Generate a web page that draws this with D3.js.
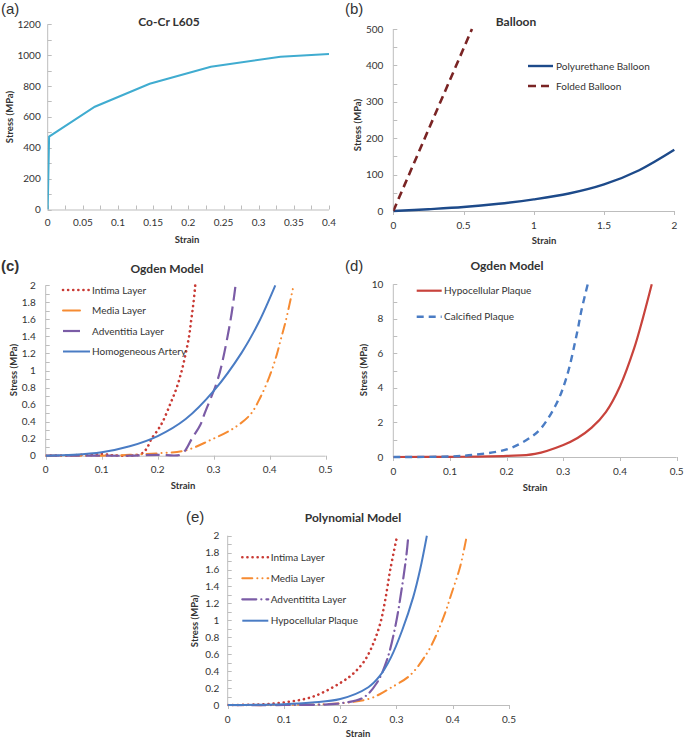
<!DOCTYPE html>
<html><head><meta charset="utf-8">
<script src="https://cdn.jsdelivr.net/npm/d3@7"></script>
<style>
body{margin:0;background:#fff;}
svg text{font-family:Lato,"Open Sans",sans-serif;fill:#333;}
</style></head>
<body><svg id="c" width="685" height="739"></svg>
<script>
// ---------- DATA ----------
// (a) Co-Cr L605
const coCrStrain = [0, 0.002, 0.067, 0.145, 0.232, 0.331, 0.4];
const coCrStress = [0, 472, 666, 815, 925, 990, 1007];
// (b) Balloon
const puStrain = [0, 0.25, 0.5, 0.75, 1, 1.25, 1.5, 1.75, 2];
const puStress = [0, 5, 11, 20, 32, 48, 73, 112, 168];
const foldStrain = [0, 0.56];
const foldStress = [0, 500];
// (c) Ogden model, artery layers
const cIntimaStrain = [0, 0.05, 0.1, 0.12, 0.15, 0.17, 0.18, 0.189, 0.2, 0.209, 0.222, 0.234, 0.243, 0.25, 0.256, 0.26, 0.264, 0.267];
const cIntimaStress = [0, 0.005, 0.02, 0.005, 0, 0.02, 0.08, 0.2, 0.3, 0.4, 0.6, 0.8, 1.0, 1.2, 1.4, 1.6, 1.8, 2.0];
const cMediaStrain = [0, 0.1, 0.15, 0.204, 0.249, 0.293, 0.335, 0.365, 0.383, 0.399, 0.411, 0.42, 0.429, 0.442];
const cMediaStress = [0, 0, 0.01, 0.03, 0.06, 0.18, 0.32, 0.48, 0.68, 0.92, 1.15, 1.37, 1.59, 1.98];
const cAdvStrain = [0, 0.1, 0.15, 0.2, 0.24, 0.249, 0.261, 0.276, 0.284, 0.305, 0.314, 0.329, 0.336, 0.339];
const cAdvStress = [0, 0, 0, 0.01, 0.01, 0.06, 0.2, 0.36, 0.5, 0.85, 1.06, 1.55, 1.85, 2.0];
const cHomoStrain = [0, 0.05, 0.1, 0.15, 0.2, 0.25, 0.3, 0.35, 0.38, 0.41];
const cHomoStress = [0, 0.01, 0.04, 0.11, 0.23, 0.43, 0.76, 1.21, 1.56, 2.0];
// (d) Ogden model, plaques
const dHypoStrain = [0, 0.1, 0.2, 0.25, 0.3, 0.325, 0.35, 0.375, 0.4, 0.425, 0.44, 0.456];
const dHypoStress = [0, 0.01, 0.06, 0.18, 0.7, 1.1, 1.7, 2.6, 4.1, 6.3, 8.0, 10];
const dCalcStrain = [0, 0.1, 0.141, 0.2, 0.235, 0.259, 0.288, 0.306, 0.324, 0.332, 0.343];
const dCalcStress = [0, 0.03, 0.12, 0.44, 0.98, 1.6, 3.1, 4.65, 7.16, 8.5, 10];
// (e) Polynomial model
const eIntimaStrain = [0, 0.05, 0.1, 0.152, 0.2, 0.223, 0.244, 0.259, 0.271, 0.28, 0.289, 0.3];
const eIntimaStress = [0, 0.005, 0.03, 0.1, 0.26, 0.37, 0.53, 0.73, 0.96, 1.24, 1.6, 1.96];
const eMediaStrain = [0, 0.1, 0.2, 0.25, 0.271, 0.289, 0.324, 0.354, 0.371, 0.386, 0.398, 0.413, 0.425];
const eMediaStress = [0, 0, 0.02, 0.07, 0.13, 0.2, 0.35, 0.61, 0.83, 1.08, 1.32, 1.63, 2.0];
const eAdvStrain = [0, 0.1, 0.2, 0.241, 0.265, 0.283, 0.298, 0.309, 0.318, 0.321];
const eAdvStress = [0, 0, 0.02, 0.087, 0.26, 0.53, 0.93, 1.36, 1.79, 2.0];
const eHypoStrain = [0, 0.1, 0.15, 0.2, 0.25, 0.27, 0.29, 0.31, 0.33, 0.342, 0.354];
const eHypoStress = [0, 0.01, 0.03, 0.07, 0.21, 0.34, 0.56, 0.88, 1.28, 1.6, 2.0];

// tick labels
const aXTicks = [0, 0.05, 0.1, 0.15, 0.2, 0.25, 0.3, 0.35, 0.4];
const aYTicks = [0, 200, 400, 600, 800, 1000, 1200];
const bXTicks = [0, 0.5, 1, 1.5, 2];
const bYTicks = [0, 100, 200, 300, 400, 500];
const ceXTicks = [0, 0.1, 0.2, 0.3, 0.4, 0.5];
const ceYTicks = [0, 0.2, 0.4, 0.6, 0.8, 1, 1.2, 1.4, 1.6, 1.8, 2];
const dYTicks = [0, 2, 4, 6, 8, 10];

// ---------- STYLES ----------
const RED_DOT = {color:"#c93a34", width:2.6, dash:"0.1,5", cap:"round"};
const ORANGE_DDD = {color:"#f68b32", width:2, dash:"10,5,0.1,5,0.1,5", cap:"round"};
const PURPLE_LD = {color:"#7b5ca6", width:2.2, dash:"14,6", cap:"butt"};
const PURPLE_LDD = {color:"#7b5ca6", width:2.2, dash:"14,5,0.1,5", cap:"round"};
const BLUE_SOLID = {color:"#4a7cc4", width:2, dash:null, cap:"butt"};

const svg = d3.select("#c");

function panel(cfg){
  const x = d3.scaleLinear().domain(cfg.xDom).range([cfg.x0, cfg.x1]);
  const y = d3.scaleLinear().domain(cfg.yDom).range([cfg.yb, cfg.yt]);
  const g = svg.append("g");
  const yMinor = d3.range(cfg.yDom[0], cfg.yDom[1] + cfg.yMinor/2, cfg.yMinor);
  g.selectAll(".ym").data(yMinor).enter().append("line")
    .attr("x1", cfg.x0).attr("x2", cfg.x0 + 4)
    .attr("y1", d => Math.round(y(d)) + 0.5).attr("y2", d => Math.round(y(d)) + 0.5)
    .attr("stroke", "#bdbdbd");
  if (cfg.xMinorIn){
    const xm = d3.range(cfg.xDom[0], cfg.xDom[1] + cfg.xMinorIn/2, cfg.xMinorIn);
    g.selectAll(".xm").data(xm).enter().append("line")
      .attr("x1", d => Math.round(x(d)) + 0.5).attr("x2", d => Math.round(x(d)) + 0.5)
      .attr("y1", cfg.yb).attr("y2", cfg.yb - 4).attr("stroke", "#bdbdbd");
  } else {
    g.selectAll(".xt").data(cfg.xTicks).enter().append("line")
      .attr("x1", d => Math.round(x(d)) + 0.5).attr("x2", d => Math.round(x(d)) + 0.5)
      .attr("y1", cfg.yb).attr("y2", cfg.yb + 4).attr("stroke", "#bdbdbd");
  }
  g.append("line").attr("x1", cfg.x0).attr("x2", cfg.x0).attr("y1", cfg.yt).attr("y2", cfg.yb).attr("stroke", "#bdbdbd");
  g.append("line").attr("x1", cfg.x0).attr("x2", cfg.x1).attr("y1", cfg.yb + 0.5).attr("y2", cfg.yb + 0.5).attr("stroke", "#bdbdbd");
  g.selectAll(".xl").data(cfg.xTicks).enter().append("text")
    .attr("x", d => x(d)).attr("y", cfg.yb + cfg.xlabOff)
    .attr("text-anchor", "middle").attr("font-size", 10).text(d => String(d));
  g.selectAll(".yl").data(cfg.yTicks).enter().append("text")
    .attr("x", cfg.x0 - cfg.ylabGap).attr("y", d => y(d) + 3.5)
    .attr("text-anchor", "end").attr("font-size", 10).text(d => String(d));
  g.append("text").attr("x", cfg.strainX).attr("y", cfg.strainY).attr("text-anchor", "middle")
    .attr("font-size", 9.5).attr("font-weight", "bold").text("Strain");
  g.append("text").attr("transform", `translate(${cfg.stressX},${cfg.stressY}) rotate(-90)`)
    .attr("text-anchor", "middle").attr("font-size", 9.5).attr("font-weight", "bold").text("Stress (MPa)");
  g.append("text").attr("x", cfg.titleX).attr("y", cfg.titleY).attr("text-anchor", "middle")
    .attr("font-size", 12).attr("font-weight", "bold").text(cfg.title);
  g.append("text").attr("x", cfg.letterX).attr("y", cfg.letterY)
    .attr("font-size", 15)
    .attr("font-weight", cfg.letterBold ? "bold" : "normal").style("font-family", "'Liberation Sans',Arial,sans-serif")
    .text(cfg.letter);
  const clipId = "clip" + cfg.letter.replace(/\W/g, "");
  svg.append("clipPath").attr("id", clipId).append("rect")
    .attr("x", cfg.x0).attr("y", cfg.yt - 3).attr("width", cfg.x1 - cfg.x0 + 3).attr("height", cfg.yb - cfg.yt + 6);
  cfg.series.forEach(s => {
    const pts = s.xs.map((v, i) => [v, s.ys[i]]);
    const line = d3.line().x(d => x(d[0])).y(d => y(d[1]))
      .curve(s.linear ? d3.curveLinear : d3.curveCatmullRom.alpha(0.5));
    g.append("path").attr("d", line(pts)).attr("fill", "none")
      .attr("stroke", s.style.color).attr("stroke-width", s.style.width)
      .attr("stroke-dasharray", s.style.dash).attr("stroke-linecap", s.style.cap)
      .attr("clip-path", `url(#${clipId})`);
  });
  if (cfg.legend){
    const L = cfg.legend;
    cfg.series.forEach((s, i) => {
      if (!s.name) return;
      const ly = L.ys[i];
      g.append("line").attr("x1", L.x1).attr("x2", s.legEnd || L.x2).attr("y1", ly).attr("y2", ly)
        .attr("stroke", s.style.color).attr("stroke-width", s.style.width)
        .attr("stroke-dasharray", s.legDash !== undefined ? s.legDash : s.style.dash).attr("stroke-linecap", s.style.cap);
      g.append("text").attr("x", L.tx).attr("y", ly + 3.5).attr("font-size", 10).text(s.name);
    });
  }
}

panel({
  letter:"(a)", letterX:1, letterY:14, title:"Co-Cr L605", titleX:169, titleY:26,
  xDom:[0,0.4], yDom:[0,1200], x0:47.7, x1:329, yb:209.5, yt:24.3,
  xTicks:aXTicks, yTicks:aYTicks, yMinor:100, xMinorIn:0.025, xlabOff:16.5, ylabGap:7,
  strainX:187, strainY:243, stressX:13, stressY:117,
  series:[{xs:coCrStrain, ys:coCrStress, linear:true, style:{color:"#40acd0", width:2, dash:null, cap:"butt"}}]
});

panel({
  letter:"(b)", letterX:345, letterY:14, title:"Balloon", titleX:516, titleY:26,
  xDom:[0,2], yDom:[0,500], x0:393.3, x1:674.3, yb:211, yt:29,
  xTicks:bXTicks, yTicks:bYTicks, yMinor:50, xlabOff:17.5, ylabGap:10,
  strainX:544, strainY:244, stressX:361, stressY:125,
  legend:{x1:528, x2:553, tx:556, ys:[66, 86]},
  series:[
    {name:"Polyurethane Balloon", xs:puStrain, ys:puStress, style:{color:"#1d4a8a", width:2.4, dash:null, cap:"butt"}},
    {name:"Folded Balloon", xs:foldStrain, ys:foldStress, linear:true, legDash:"8,5", style:{color:"#7a2424", width:2.6, dash:"8,5", cap:"butt"}}
  ]
});

panel({
  letter:"(c)", letterBold:true, letterX:1, letterY:271, title:"Ogden Model", titleX:167, titleY:273,
  xDom:[0,0.5], yDom:[0,2], x0:45.7, x1:325.7, yb:455.7, yt:285.3,
  xTicks:ceXTicks, yTicks:ceYTicks, yMinor:0.1, xlabOff:17.5, ylabGap:10,
  strainX:183, strainY:489, stressX:17, stressY:370,
  legend:{x1:63, x2:90, tx:92, ys:[290, 310.5, 331, 351.5]},
  series:[
    {name:"Intima Layer", xs:cIntimaStrain, ys:cIntimaStress, style:RED_DOT},
    {name:"Media Layer", xs:cMediaStrain, ys:cMediaStress, style:ORANGE_DDD, legEnd:80, legDash:null},
    {name:"Adventitia Layer", xs:cAdvStrain, ys:cAdvStress, style:PURPLE_LD, legEnd:80, legDash:null},
    {name:"Homogeneous Artery", xs:cHomoStrain, ys:cHomoStress, style:BLUE_SOLID}
  ]
});

panel({
  letter:"(d)", letterX:345, letterY:271, title:"Ogden Model", titleX:507, titleY:270,
  xDom:[0,0.5], yDom:[0,10], x0:393.3, x1:676.7, yb:457, yt:284.3,
  xTicks:ceXTicks, yTicks:dYTicks, yMinor:1, xlabOff:18, ylabGap:10,
  strainX:535, strainY:491, stressX:367, stressY:370,
  legend:{x1:416.7, x2:441.7, tx:444, ys:[290.7, 316.7]},
  series:[
    {name:"Hypocellular Plaque", xs:dHypoStrain, ys:dHypoStress, style:{color:"#c8433c", width:2.2, dash:null, cap:"butt"}},
    {name:"Calcified Plaque", xs:dCalcStrain, ys:dCalcStress, style:{color:"#4a7cc4", width:2.4, dash:"7,5", cap:"butt"}}
  ]
});

panel({
  letter:"(e)", letterX:186, letterY:522, title:"Polynomial Model", titleX:353, titleY:522,
  xDom:[0,0.5], yDom:[0,2], x0:227.7, x1:509, yb:705, yt:535.7,
  xTicks:ceXTicks, yTicks:ceYTicks, yMinor:0.1, xlabOff:17.5, ylabGap:8.5,
  strainX:358, strainY:737, stressX:198, stressY:621,
  legend:{x1:242.3, x2:268.3, tx:270.7, ys:[557.3, 578.3, 599.3, 620.7]},
  series:[
    {name:"Intima Layer", xs:eIntimaStrain, ys:eIntimaStress, style:RED_DOT},
    {name:"Media Layer", xs:eMediaStrain, ys:eMediaStress, style:ORANGE_DDD},
    {name:"Adventitita Layer", xs:eAdvStrain, ys:eAdvStress, style:PURPLE_LDD},
    {name:"Hypocellular Plaque", xs:eHypoStrain, ys:eHypoStress, style:BLUE_SOLID}
  ]
});
</script></body></html>
